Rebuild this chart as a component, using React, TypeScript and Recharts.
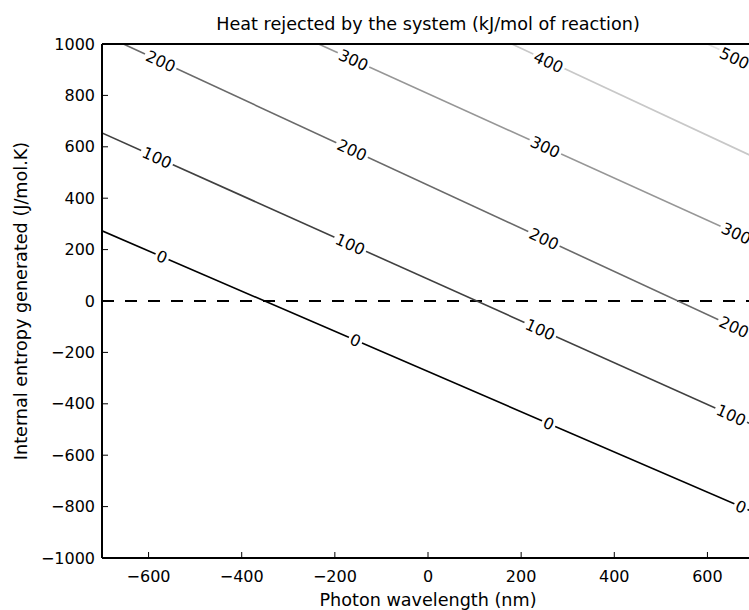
import React from "react";
import {
  ComposedChart,
  Line,
  Scatter,
  XAxis,
  YAxis,
  ReferenceLine,
  Label,
} from "recharts";

const X_TICKS = [-600, -400, -200, 0, 200, 400, 600];
const Y_TICKS = [-1000, -800, -600, -400, -200, 0, 200, 400, 600, 800, 1000];

// contour levels (kJ/mol) and end points of each iso-line
const LEVELS = [0, 100, 200, 300, 400, 500];
const LINE_X = [
  [-700, 700],
  [-700, 700],
  [-654, 700],
  [-235, 700],
  [180, 700],
  [600, 700],
];
const LINE_Y = [
  [273, -822],
  [654, -484],
  [1000, -137],
  [1000, 232],
  [1000, 560],
  [1000, 917],
];
const LINE_COLORS = ["#000000", "#404040", "#6a6a6a", "#969696", "#c8c8c8", "#e2e2e2"];

// where the inline contour labels sit
const LABEL_X = [
  [-571, -156, 259, 672],
  [-582, -167, 241, 651],
  [-574, -163, 249, 657],
  [-160, 252, 662],
  [259],
  [658],
];
const LABEL_Y = [
  [172, -153, -477, -800],
  [558, 221, -111, -444],
  [933, 588, 242, -101],
  [938, 600, 263],
  [930],
  [945],
];

const FONT = "DejaVu Sans";
const CHART_W = 770;
const CHART_H = 610;
const MARGIN = { top: 43, right: 15, bottom: 0, left: 0 };
const PLOT_W = 652;
const PLOT_H = 514;

const fmt = (v: number) => (v < 0 ? "\u2212" + Math.abs(v) : String(v));

function lineAngle(k: number) {
  const px = ((LINE_X[k][1] - LINE_X[k][0]) * PLOT_W) / 1400;
  const py = (-(LINE_Y[k][1] - LINE_Y[k][0]) * PLOT_H) / 2000;
  return (Math.atan2(py, px) * 180) / Math.PI;
}

function ContourLabel(props: any) {
  const { cx, cy, payload } = props;
  const k = payload.level;
  const text = String(LEVELS[k]);
  const w = text.length * 10.2 + 4;
  return (
    <g transform={`translate(${cx},${cy}) rotate(${lineAngle(k)})`}>
      <rect x={-w / 2} y={-3} width={w} height={6} fill="#fff" />
      <text x={0} y={0} dy="0.36em" textAnchor="middle" fontSize={16} fontFamily={FONT} fill="#000">
        {text}
      </text>
    </g>
  );
}

// title is hung off the bottom axis box, one plot height up
function TitleLabel(props: any) {
  const { x, y, width } = props.viewBox;
  return (
    <text x={x + width / 2} y={y - PLOT_H - 14.5} textAnchor="middle" fontSize={17.6} fontFamily={FONT} fill="#000">
      Heat rejected by the system (kJ/mol of reaction)
    </text>
  );
}

function XTitle(props: any) {
  const { x, y, width } = props.viewBox;
  return (
    <text x={x + width / 2} y={y + 47.5} textAnchor="middle" fontSize={17.6} fontFamily={FONT} fill="#000">
      Photon wavelength (nm)
    </text>
  );
}

function YTitle(props: any) {
  const { x, y, height } = props.viewBox;
  const cx = x + 27;
  const cy = y + height / 2;
  return (
    <text
      x={cx}
      y={cy}
      transform={`rotate(-90 ${cx} ${cy})`}
      textAnchor="middle"
      fontSize={17.6}
      fontFamily={FONT}
      fill="#000"
    >
      Internal entropy generated (J/mol.K)
    </text>
  );
}

export default function App() {
  const lines = LINE_X.map((xs, k) => xs.map((x, i) => ({ x, y: LINE_Y[k][i] })));
  const labels = LABEL_X.flatMap((xs, k) => xs.map((x, i) => ({ x, y: LABEL_Y[k][i], level: k })));

  const axisLine = { stroke: "#000", strokeWidth: 2 };
  const tickLine = { stroke: "#000", strokeWidth: 1 };
  const tickStyle = { fill: "#000", fontSize: 16, fontFamily: FONT };

  return (
    <div
      style={{
        position: "absolute",
        left: 0,
        top: 0,
        width: 749,
        height: 610,
        overflow: "hidden",
        background: "#fff",
      }}
    >
      <ComposedChart width={CHART_W} height={CHART_H} margin={MARGIN}>
        <XAxis
          dataKey="x"
          type="number"
          domain={[-700, 700]}
          ticks={X_TICKS}
          interval={0}
          allowDataOverflow
          tickFormatter={fmt}
          tick={tickStyle}
          tickSize={-6}
          tickMargin={19}
          tickLine={tickLine}
          axisLine={axisLine}
          height={52}
        >
          <Label content={XTitle} />
          <Label content={TitleLabel} />
        </XAxis>
        <XAxis
          xAxisId="top"
          orientation="top"
          type="number"
          domain={[-700, 700]}
          ticks={X_TICKS}
          interval={0}
          allowDataOverflow
          tick={false}
          tickSize={-6}
          tickLine={tickLine}
          axisLine={axisLine}
          height={1}
        />
        <YAxis
          type="number"
          domain={[-1000, 1000]}
          ticks={Y_TICKS}
          interval={0}
          allowDataOverflow
          tickFormatter={fmt}
          tick={tickStyle}
          tickSize={-6}
          tickMargin={13}
          tickLine={tickLine}
          axisLine={axisLine}
          width={102}
        >
          <Label content={YTitle} />
        </YAxis>
        <YAxis
          yAxisId="right"
          orientation="right"
          type="number"
          domain={[-1000, 1000]}
          ticks={Y_TICKS}
          interval={0}
          allowDataOverflow
          tick={false}
          tickSize={-6}
          tickLine={tickLine}
          axisLine={axisLine}
          width={1}
        />
        <ReferenceLine y={0} stroke="#000" strokeWidth={2} strokeDasharray="12 11" />
        {lines.map((d, k) => (
          <Line
            key={LEVELS[k]}
            data={d}
            dataKey="y"
            type="linear"
            stroke={LINE_COLORS[k]}
            strokeWidth={1.6}
            dot={false}
            activeDot={false}
            isAnimationActive={false}
          />
        ))}
        <Scatter data={labels} dataKey="y" shape={ContourLabel} isAnimationActive={false} />
      </ComposedChart>
    </div>
  );
}
